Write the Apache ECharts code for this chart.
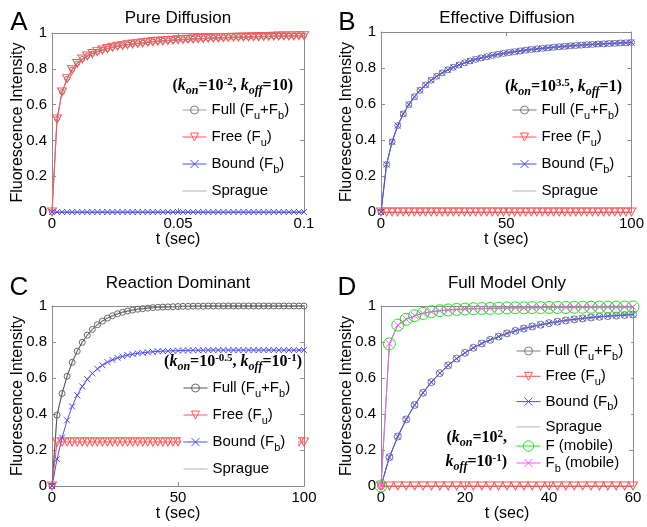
<!DOCTYPE html>
<html>
<head>
<meta charset="utf-8">
<script src="https://cdn.jsdelivr.net/npm/echarts@6/dist/echarts.min.js"></script>
<style>
  html, body { margin: 0; padding: 0; background: #fff; }
  #chart { width: 647px; height: 527px; }
</style>
</head>
<body>
<div id="chart"></div>
<script>
// sample times
const tA = [0, .002, .004, .006, .008, .01, .012, .014, .016, .018, .02, .022, .024, .026, .028, .03, .032, .034,
    .036, .038, .04, .042, .044, .046, .048, .05, .052, .054, .056, .058, .06, .062, .064, .066, .068, .07, .072,
    .074, .076, .078, .08, .082, .084, .086, .088, .09, .092, .094, .096, .098, .1];
const tB = [0, 2.22, 4.44, 6.67, 8.89, 11.11, 13.33, 15.56, 17.78, 20, 22.22, 24.44, 26.67, 28.89, 31.11, 33.33,
    35.56, 37.78, 40, 42.22, 44.44, 46.67, 48.89, 51.11, 53.33, 55.56, 57.78, 60, 62.22, 64.44, 66.67, 68.89, 71.11,
    73.33, 75.56, 77.78, 80, 82.22, 84.44, 86.67, 88.89, 91.11, 93.33, 95.56, 97.78, 100];
const tC = [0, 2, 4, 6, 8, 10, 12, 14, 16, 18, 20, 22, 24, 26, 28, 30, 32, 34, 36, 38, 40, 42, 44, 46, 48, 50, 52,
    54, 56, 58, 60, 62, 64, 66, 68, 70, 72, 74, 76, 78, 80, 82, 84, 86, 88, 90, 92, 94, 96, 98, 100];
const tD = [0, 2, 4, 6, 8, 10, 12, 14, 16, 18, 20, 22, 24, 26, 28, 30, 32, 34, 36, 38, 40, 42, 44, 46, 48, 50, 52,
    54, 56, 58, 60];

// A: pure diffusion (free == full, bound == 0)
const fullA = [0, .52, .67, .745, .795, .83, .855, .872, .885, .896, .905, .913, .92, .926, .931, .935, .939, .942,
    .945, .948, .952, .954, .956, .958, .96, .962, .964, .965, .967, .968, .969, .971, .972, .973, .974, .975, .976,
    .977, .978, .978, .979, .98, .981, .981, .982, .983, .983, .984, .984, .985, .985];
const zeroA = [0, 0, 0, 0, 0, 0, 0, 0, 0, 0, 0, 0, 0, 0, 0, 0, 0, 0, 0, 0, 0, 0, 0, 0, 0, 0, 0, 0, 0, 0, 0, 0, 0, 0,
    0, 0, 0, 0, 0, 0, 0, 0, 0, 0, 0, 0, 0, 0, 0, 0, 0];

// B: effective diffusion (bound == full, free == 0)
const fullB = [0, .264, .39, .48, .545, .597, .64, .676, .706, .732, .754, .773, .79, .804, .817, .829, .839, .848,
    .856, .863, .87, .876, .881, .886, .891, .895, .899, .903, .906, .909, .912, .915, .918, .92, .923, .925, .927,
    .929, .931, .933, .934, .936, .937, .939, .94, .942];
const zeroB = [0, 0, 0, 0, 0, 0, 0, 0, 0, 0, 0, 0, 0, 0, 0, 0, 0, 0, 0, 0, 0, 0, 0, 0, 0, 0, 0, 0, 0, 0, 0, 0, 0, 0,
    0, 0, 0, 0, 0, 0, 0, 0, 0, 0, 0, 0];

// C: reaction dominant
const fullC = [0, .394, .514, .61, .687, .749, .798, .838, .87, .896, .916, .933, .946, .957, .965, .972, .977, .982,
    .985, .988, .991, .993, .994, .995, .996, .997, .998, .998, .999, .999, .999, 1, 1, 1, 1, 1, 1, 1, 1, 1, 1, 1, 1,
    1, 1, 1, 1, 1, 1, 1, 1];
const freeC = [0, .245, .245, .245, .245, .245, .245, .245, .245, .245, .245, .245, .245, .245, .245, .245, .245,
    .245, .245, .245, .245, .245, .245, .245, .245, .245, .245, .245, .245, .245, .245, .245, .245, .245, .245, .245,
    .245, .245, .245, .245, .245, .245, .245, .245, .245, .245, .245, .245, .245, .245, .245];
const boundC = [0, .149, .269, .365, .442, .504, .553, .593, .625, .651, .671, .688, .701, .712, .72, .727, .732,
    .737, .74, .743, .746, .748, .749, .75, .751, .752, .753, .753, .754, .754, .754, .755, .755, .755, .755, .755,
    .755, .755, .755, .755, .755, .755, .755, .755, .755, .755, .755, .755, .755, .755, .755];

// D: full model only
const fullD = [0, .16, .275, .37, .45, .518, .577, .627, .67, .708, .74, .768, .792, .812, .83, .848, .862, .875,
    .886, .896, .905, .913, .92, .926, .931, .936, .94, .944, .947, .95, .953];
const zeroD = [0, 0, 0, 0, 0, 0, 0, 0, 0, 0, 0, 0, 0, 0, 0, 0, 0, 0, 0, 0, 0, 0, 0, 0, 0, 0, 0, 0, 0, 0, 0];
const mobileD = [0, .79, .894, .926, .946, .959, .968, .974, .978, .981, .983, .985, .986, .987, .988, .989, .99,
    .99, .991, .991, .992, .992, .992, .993, .993, .993, .994, .994, .994, .994, .995];

const yTicks = [0, 1, 0.2];
const xRanges = [[0, 0.1, 0.05], [0, 100, 50], [0, 100, 50], [0, 60, 20]];
const titles = ["Pure Diffusion", "Effective Diffusion", "Reaction Dominant", "Full Model Only"];
const letters = ["A", "B", "C", "D"];
const labels = {
    full: "Full (F{s|u}+F{s|b})",
    free: "Free (F{s|u})",
    bound: "Bound (F{s|b})",
    sprague: "Sprague",
    fm: "F (mobile)",
    fbm: "F{s|b} (mobile)",
};
const rates = [
    "{n|(}{k|k}{ks|on}{n|=10}{sp|-2}{n|, }{k|k}{ks|off}{n|=10)}",
    "{n|(}{k|k}{ks|on}{n|=10}{sp|3.5}{n|, }{k|k}{ks|off}{n|=1)}",
    "{n|(}{k|k}{ks|on}{n|=10}{sp|-0.5}{n|, }{k|k}{ks|off}{n|=10}{sp|-1}{n|)}",
    "{n|(}{k|k}{ks|on}{n|=10}{sp|2}{n|,}",
    "{k|k}{ks|off}{n|=10}{sp|-1}{n|)}",
];

const FONT = "Liberation Sans";
const SERIF = "Liberation Serif";
const TRI = "path://M0,0L10,0L5,9Z";
const XS = "path://M0,0L10,10M10,0L0,10";
const GRAY = "#7a7a7a", RED = "#ff5555", BLUE = "#4d4dff", LIGHT = "#b4b4b4", GREEN = "#22e022", PINK = "#ff55ff";

function ser(name, g, t, v, color, symbol, size, lineColor) {
    return {
        name: name, type: "line", xAxisIndex: g, yAxisIndex: g,
        data: t.map((x, i) => [x, v[i]]),
        symbol: symbol, symbolSize: size, clip: false, silent: true, animation: false,
        lineStyle: { color: lineColor || color, width: 1 },
        itemStyle: { color: "transparent", borderColor: color, borderWidth: 1 },
    };
}
function sprague(name, g, t, v) {
    return {
        name: name, type: "line", xAxisIndex: g, yAxisIndex: g,
        data: t.map((x, i) => [x, v[i]]),
        symbol: "circle", symbolSize: 2, clip: false, silent: true, animation: false,
        lineStyle: { color: LIGHT, width: 1 },
        itemStyle: { color: "#999" },
    };
}

const series = [
    sprague("A:sprague", 0, tA, fullA),
    ser("A:full", 0, tA, fullA, GRAY, "circle", 5, "#a0a0a0"),
    ser("A:free", 0, tA, fullA, RED, TRI, [9, 8]),
    ser("A:bound", 0, tA, zeroA, BLUE, XS, 6),

    sprague("B:sprague", 1, tB, fullB),
    ser("B:full", 1, tB, fullB, GRAY, "circle", 6),
    ser("B:free", 1, tB, zeroB, RED, TRI, [9, 8]),
    ser("B:bound", 1, tB, fullB, BLUE, XS, 6),

    sprague("C:sprague", 2, tC, fullC),
    ser("C:full", 2, tC, fullC, "#666", "circle", 6, "#555"),
    ser("C:free", 2, tC, freeC, RED, TRI, [9, 8]),
    ser("C:bound", 2, tC, boundC, BLUE, XS, 6),

    sprague("D:sprague", 3, tD, fullD),
    ser("D:full", 3, tD, fullD, GRAY, "circle", 7),
    ser("D:free", 3, tD, zeroD, RED, TRI, [9, 8]),
    ser("D:bound", 3, tD, fullD, BLUE, XS, 6),
    ser("D:fm", 3, tD, mobileD, GREEN, "circle", 12),
    ser("D:fbm", 3, tD, mobileD, PINK, XS, 7),
];

const grids = [
    { left: 52, top: 33, width: 252, height: 179 },
    { left: 381, top: 32, width: 252, height: 180 },
    { left: 52, top: 306, width: 252, height: 180 },
    { left: 381, top: 306, width: 252, height: 180 },
];

const axisBase = {
    axisLine: { show: true, onZero: false, lineStyle: { color: "#8c8c8c", width: 1 } },
    axisTick: { show: true, inside: true, length: 4, lineStyle: { color: "#8c8c8c" } },
    splitLine: { show: false },
};
const xAxes = [], yAxes = [];
for (let pass = 0; pass < 2; pass++) {
    for (let g = 0; g < 4; g++) {
        const r = xRanges[g];
        xAxes.push(Object.assign({}, axisBase, {
            type: "value", gridIndex: g, min: r[0], max: r[1], interval: r[2],
            position: pass ? "top" : "bottom",
            axisLabel: { show: !pass, color: "#000", fontFamily: FONT, fontSize: 15, margin: 4 },
            name: pass ? "" : "t (sec)", nameLocation: "middle", nameGap: 20, nameMoveOverlap: false,
            nameTextStyle: { color: "#000", fontFamily: FONT, fontSize: 16 },
        }));
        yAxes.push(Object.assign({}, axisBase, {
            type: "value", gridIndex: g, min: yTicks[0], max: yTicks[1], interval: yTicks[2],
            position: pass ? "right" : "left",
            axisLabel: { show: !pass, color: "#000", fontFamily: FONT, fontSize: 15, margin: 5 },
            name: pass ? "" : "Fluorescence Intensity", nameLocation: "middle", nameGap: 26, nameMoveOverlap: false,
            nameTextStyle: { color: "#000", fontFamily: FONT, fontSize: 16 },
        }));
    }
}

function legend(names, left, top, gap, ih) {
    return {
        data: names, orient: "vertical", left: left, top: top, itemGap: gap,
        itemWidth: 24, itemHeight: ih || 10, padding: [2, 8, 2, 2],
        backgroundColor: "#fff", selectedMode: false,
        formatter: (n) => labels[n.split(":")[1]],
        itemStyle: { borderWidth: 1 }, lineStyle: { width: 1 },
        textStyle: {
            fontFamily: FONT, fontSize: 15, color: "#000", lineHeight: 24,
            rich: { s: { fontFamily: FONT, fontSize: 11, color: "#000", lineHeight: 13, padding: [11, 0, 0, 0] } },
        },
    };
}
function four(p) {
    return [p + ":full", p + ":free", p + ":bound", { name: p + ":sprague", itemStyle: { opacity: 0 } }];
}

const rich = {
    n: { fontFamily: SERIF, fontWeight: "bold", fontSize: 16, lineHeight: 18 },
    k: { fontFamily: SERIF, fontWeight: "bold", fontStyle: "italic", fontSize: 16, lineHeight: 18 },
    ks: { fontFamily: SERIF, fontWeight: "bold", fontStyle: "italic", fontSize: 12, lineHeight: 13, padding: [9, 0, 0, 0] },
    sp: { fontFamily: SERIF, fontWeight: "bold", fontSize: 11, lineHeight: 12, padding: [0, 0, 8, 0] },
};
function txt(x, y, text, size, align) {
    return {
        type: "text", x: x, y: y, z: 10, silent: true,
        style: { text: text, fill: "#000", font: size + "px '" + FONT + "'", align: align || "center", verticalAlign: "middle" },
    };
}
function rate(x, y, text) {
    return {
        type: "text", x: x, y: y, z: 10, silent: true,
        style: { text: text, rich: rich, fill: "#000", font: "bold 16px '" + SERIF + "'", align: "right", verticalAlign: "middle" },
    };
}

const graphics = [
    txt(19, 22.5, letters[0], 26), txt(347, 22.5, letters[1], 26),
    txt(19, 287.5, letters[2], 26), txt(347, 287.5, letters[3], 26),
    txt(178, 18, titles[0], 17), txt(507, 18, titles[1], 17),
    txt(178, 283, titles[2], 17), txt(507, 283, titles[3], 17),
    rate(293, 86, rates[0]), rate(622, 87, rates[1]), rate(302, 362, rates[2]),
    rate(507, 438, rates[3]), rate(507, 462, rates[4]),
];

const chart = echarts.init(document.getElementById("chart"), null, { renderer: "canvas" });
chart.setOption({
    animation: false,
    backgroundColor: "#fff",
    grid: grids,
    xAxis: xAxes,
    yAxis: yAxes,
    legend: [
        legend(four("A"), 180, 96, 3),
        legend(four("B"), 510, 96, 3),
        legend(four("C"), 181, 374, 3),
        legend(four("D"), 514, 337, 1.3),
        legend(["D:fm"], 514, 432, 0, 13),
        legend(["D:fbm"], 514, 449, 0, 10),
    ],
    graphic: graphics,
    series: series,
});
</script>
</body>
</html>
